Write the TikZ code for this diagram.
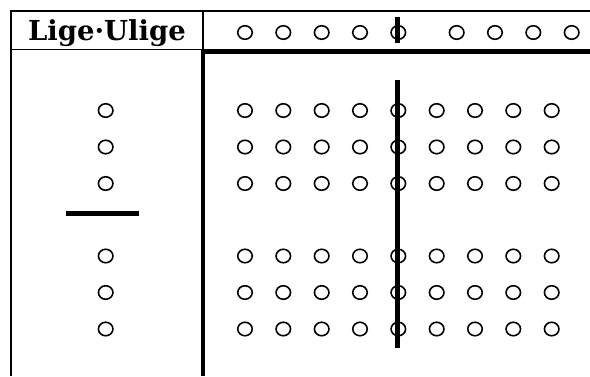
\documentclass[tikz,border=0pt]{standalone}
\usepackage{fontspec}
\usetikzlibrary{shapes.geometric}
\newfontfamily\titlefont{DejaVu Serif}
\begin{document}
\begin{tikzpicture}[x=1pt,y=-1pt,
  dot/.style={draw,ellipse,minimum width=14.5pt,minimum height=13.5pt,inner sep=0pt,line width=1.6pt},
  thinrule/.style={line width=1.8pt},
  thickrule/.style={line width=4.8pt},
  barrule/.style={line width=4.2pt}]
\useasboundingbox (0,0) rectangle (590,376);
% frame
\coordinate (tl) at (11,11);
\coordinate (tr) at (590,11);
\coordinate (bl) at (11,376);
\coordinate (hd) at (203,11);
\coordinate (hm) at (203,49.5);
\coordinate (hl) at (11,49.5);
\coordinate (tk) at (201,51.2);
\coordinate (tkr) at (590,51.2);
\coordinate (vb) at (203,376);
\draw[thinrule] (tr) -- (tl) -- (bl);
\draw[thinrule] (hd) -- (hm);
\draw[thinrule] (hl) -- (hm);
\draw[thickrule] (tk) -- (tkr);
\draw[thickrule] (203,49) -- (vb);
% title
\node[font=\titlefont\bfseries\fontsize{27.5}{30}\selectfont,anchor=base,inner sep=0pt] (title) at (107,40.5) {Lige·Ulige};
% header circles
\foreach \x [count=\i] in {245,283.3,321.7,360,398.3,456.7,495,533.3,571.7}
  \node[dot] (h\i) at (\x,32.5) {};
\coordinate (hb1) at (397.5,17);
\coordinate (hb2) at (397.5,42.5);
\draw[barrule] (hb1) -- (hb2);
% left column
\foreach \y [count=\j] in {110.5,147,183.5,256,292.5,329}
  \node[dot] (l\j) at (105.7,\y) {};
\coordinate (s1) at (66,213.7);
\coordinate (s2) at (139.3,213.7);
\draw[thickrule] (s1) -- (s2);
% main grid
\foreach \y [count=\j] in {110.5,147,183.5,256,292.5,329}
  \foreach \x [count=\i] in {245,283.3,321.7,360,398.3,436.7,475,513.3,551.7}
    \node[dot] (g\j-\i) at (\x,\y) {};
\coordinate (mb1) at (397.5,80);
\coordinate (mb2) at (397.5,348);
\draw[barrule] (mb1) -- (mb2);
\end{tikzpicture}
\end{document}
